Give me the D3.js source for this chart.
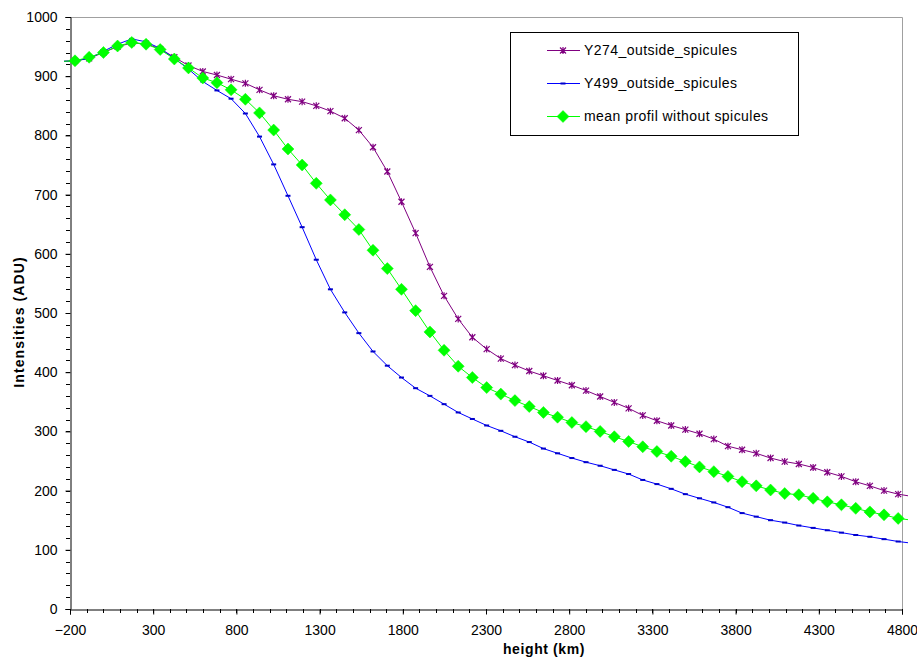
<!DOCTYPE html>
<html>
<head>
<meta charset="utf-8">
<script src="https://cdn.jsdelivr.net/npm/d3@7"></script>
<style>
  html, body { margin: 0; padding: 0; background: #fff; }
  svg { display: block; }
  text { font-family: "Liberation Sans", Arial, sans-serif; fill: #000; }
</style>
</head>
<body>
<svg id="chart" width="917" height="659"></svg>
<script>
// ---- data ----
const heights = [-255, -170, -85, 1, 86, 171, 257, 342, 427, 512, 598, 683, 768, 854, 939, 1024, 1110, 1195, 1280, 1365, 1451, 1536, 1621, 1707, 1792, 1877, 1963, 2048, 2133, 2218, 2304, 2389, 2474, 2560, 2645, 2730, 2816, 2901, 2986, 3071, 3157, 3242, 3327, 3413, 3498, 3583, 3669, 3754, 3839, 3924, 4010, 4095, 4180, 4266, 4351, 4436, 4522, 4607, 4692, 4777, 4863];

const y274 = [925, 926, 930, 940, 950, 956, 955, 946, 932, 918, 908, 902, 895, 888, 877, 867, 861, 857, 850, 841, 829, 809, 780, 739, 688, 635, 578, 529, 490, 459, 439, 423, 412, 402, 394, 386, 378, 369, 359, 349, 339, 327, 318, 310, 303, 296, 287, 275, 269, 263, 255, 249, 245, 239, 231, 224, 215, 208, 200, 194, 190];

const y499 = [925, 926, 930, 942, 954, 963, 958, 947, 930, 912, 891, 876, 862, 837, 798, 751, 698, 645, 590, 540, 501, 466, 435, 411, 391, 373, 360, 346, 332, 321, 310, 301, 291, 282, 271, 263, 255, 248, 242, 235, 228, 218, 211, 203, 194, 187, 180, 172, 162, 156, 150, 146, 141, 137, 133, 129, 125, 122, 118, 114, 111];

const meanProfil = [925, 926, 932, 940, 951, 957, 954, 945, 929, 914, 897, 889, 877, 861, 838, 809, 777, 750, 719, 691, 666, 641, 606, 575, 540, 504, 468, 437, 410, 391, 374, 363, 352, 342, 332, 324, 315, 308, 300, 291, 283, 274, 266, 258, 249, 240, 232, 224, 215, 208, 201, 195, 193, 187, 181, 176, 170, 164, 159, 153, 150];

const seriesNames = ["Y274_outside_spicules", "Y499_outside_spicules", "mean profil without spicules"];
const seriesColors = ["#800080", "#0000FF", "#00FF00"];
const xTicks = [-200, 300, 800, 1300, 1800, 2300, 2800, 3300, 3800, 4300, 4800];
const yTicks = [0, 100, 200, 300, 400, 500, 600, 700, 800, 900, 1000];
const xTitle = "height (km)";
const yTitle = "Intensities (ADU)";

// ---- layout ----
const svg = d3.select("#chart");
const L = 70, R = 902, T = 17, B = 609;
const x = d3.scaleLinear().domain([-200, 4800]).range([L, R]);
const y = d3.scaleLinear().domain([0, 1000]).range([B, T]);

// plot border (top/right gray)
svg.append("path")
  .attr("d", `M${L},${T + 0.5}H${R + 0.5}V${B}`)
  .attr("fill", "none").attr("stroke", "#a0a0a0").attr("stroke-width", 1);

// minor ticks
const xMinor = d3.range(-200, 4801, 100);
const yMinor = d3.range(0, 1001, 20);
svg.append("g").selectAll("line").data(xMinor).join("line")
  .attr("x1", d => Math.round(x(d)) + 0.5).attr("x2", d => Math.round(x(d)) + 0.5)
  .attr("y1", B).attr("y2", B + 4).attr("stroke", "#000");
svg.append("g").selectAll("line").data(yMinor).join("line")
  .attr("y1", d => Math.round(y(d)) + 0.5).attr("y2", d => Math.round(y(d)) + 0.5)
  .attr("x1", L - 4).attr("x2", L).attr("stroke", "#000");

// axes
const xAxis = d3.axisBottom(x).tickValues(xTicks).tickSize(5).tickPadding(11).tickFormat(d3.format("d"));
const gx = svg.append("g").attr("transform", `translate(0,${B + 0.5})`).call(xAxis);
gx.select(".domain").attr("stroke", "#000");
gx.selectAll(".tick line").attr("stroke", "#000");
gx.selectAll("text").attr("font-size", 14).attr("font-family", "Liberation Sans, Arial, sans-serif").attr("fill", "#000");

const yAxis = d3.axisLeft(y).tickValues(yTicks).tickSize(5).tickPadding(8).tickFormat(d3.format("d"));
const gy = svg.append("g").attr("transform", `translate(${L + 0.5},0)`).call(yAxis);
gy.select(".domain").attr("stroke", "#000");
gy.selectAll(".tick line").attr("stroke", "#000");
gy.selectAll("text").attr("font-size", 14).attr("font-family", "Liberation Sans, Arial, sans-serif").attr("fill", "#000");

// axis titles
svg.append("text").attr("x", 544).attr("y", 654).attr("text-anchor", "middle")
  .attr("font-size", 14).attr("font-weight", "bold").attr("letter-spacing", 0.6).text(xTitle);
svg.append("text").attr("transform", "translate(24,322) rotate(-90)").attr("text-anchor", "middle")
  .attr("font-size", 14).attr("font-weight", "bold").attr("letter-spacing", 1.1).text(yTitle);

// clip for lines
svg.append("clipPath").attr("id", "clip").append("rect")
  .attr("x", 64).attr("y", 0).attr("width", 908 - 64).attr("height", 659);

const allSeries = [y274, y499, meanProfil];
const line = d3.line().x((d, i) => x(heights[i])).y(d => y(d));

// marker shapes
function starPath(s) { return `M${-s},${-s}L${s},${s}M${-s},${s}L${s},${-s}M0,${-s - 0.5}L0,${s + 0.5}`; }
function drawMarker(g, k, cx, cy) {
  if (k === 0) {
    g.append("path").attr("d", starPath(3)).attr("transform", `translate(${cx},${cy})`)
      .attr("stroke", seriesColors[0]).attr("stroke-width", 1.2).attr("fill", "none");
  } else if (k === 1) {
    g.append("rect").attr("x", cx - 2.5).attr("y", cy - 1).attr("width", 5).attr("height", 2)
      .attr("fill", "#0000CC");
  } else {
    g.append("path").attr("d", "M0,-6L6,0L0,6L-6,0Z").attr("transform", `translate(${cx},${cy})`)
      .attr("fill", seriesColors[2]).attr("stroke", seriesColors[2]).attr("stroke-width", 0.5);
  }
}

// draw order: purple, blue, green on top
allSeries.forEach((vals, k) => {
  const g = svg.append("g");
  g.append("path").datum(vals).attr("d", line).attr("clip-path", "url(#clip)")
    .attr("fill", "none").attr("stroke", seriesColors[k]).attr("stroke-width", 1);
  vals.forEach((v, i) => {
    if (heights[i] >= -200 && heights[i] <= 4800) drawMarker(g, k, x(heights[i]), y(v));
  });
});

// legend
const lg = svg.append("g");
lg.append("rect").attr("x", 510.5).attr("y", 32.5).attr("width", 288).attr("height", 103)
  .attr("fill", "#fff").attr("stroke", "#000").attr("stroke-width", 1);
const rowsY = [50, 83, 116];
seriesNames.forEach((name, k) => {
  const cy = rowsY[k];
  lg.append("line").attr("x1", 547).attr("x2", 580).attr("y1", cy + 0.5).attr("y2", cy + 0.5)
    .attr("stroke", seriesColors[k]).attr("stroke-width", 1);
  drawMarker(lg, k, 563, cy + 0.5);
  lg.append("text").attr("x", 584).attr("y", cy + 5).attr("font-size", 14)
    .attr("letter-spacing", 0.45).text(name);
});
</script>
</body>
</html>
